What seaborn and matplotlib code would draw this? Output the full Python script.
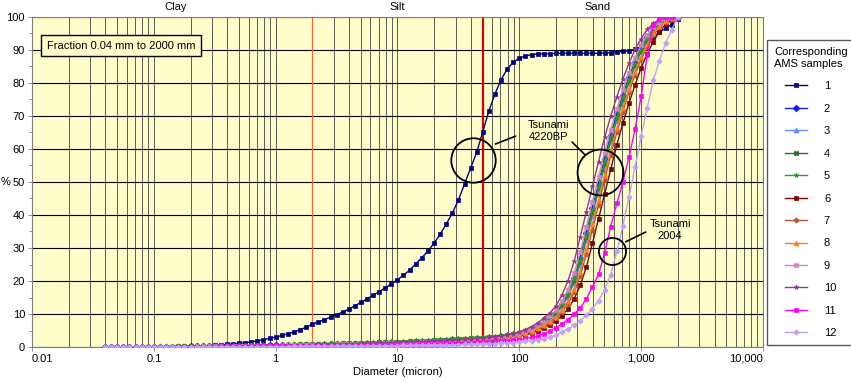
import matplotlib
matplotlib.use('Agg')  # no display
import pandas as pd
import matplotlib.pyplot as plt
import seaborn as sns
from matplotlib.ticker import FixedLocator, FixedFormatter, LogLocator, MultipleLocator, NullFormatter

plt.rcParams['font.family'] = ['Liberation Sans', 'DejaVu Sans']

# size classes (micron)
diameter = [0.040, 0.0447, 0.0501, 0.0562, 0.0631, 0.0708, 0.0794, 0.0891,
            0.100, 0.112, 0.126, 0.141, 0.158, 0.178, 0.200, 0.224, 0.251, 0.282,
            0.316, 0.355, 0.398, 0.447, 0.501, 0.562, 0.631, 0.708, 0.794, 0.891,
            1.00, 1.12, 1.26, 1.41, 1.58, 1.78, 2.00, 2.24, 2.51, 2.82,
            3.16, 3.55, 3.98, 4.47, 5.01, 5.62, 6.31, 7.08, 7.94, 8.91,
            10.0, 11.2, 12.6, 14.1, 15.8, 17.8, 20.0, 22.4, 25.1, 28.2,
            31.6, 35.5, 39.8, 44.7, 50.1, 56.2, 63.1, 70.8, 79.4, 89.1,
            100, 112, 126, 141, 158, 178, 200, 224, 251, 282,
            316, 355, 398, 447, 501, 562, 631, 708, 794, 891,
            1000, 1122, 1259, 1413, 1585, 1778, 1995]

# cumulative % for each AMS sample
s1 = [0.0, 0.0, 0.0, 0.0, 0.0, 0.0, 0.0, 0.0,
      0.0, 0.0, 0.0, 0.05, 0.08, 0.12, 0.17, 0.23, 0.30, 0.40, 0.50, 0.62, 0.76, 0.92, 1.1, 1.3, 1.55, 1.85, 2.2, 2.6,
      3.0, 3.5, 4.0, 4.6, 5.2, 6.0, 6.9, 7.6, 8.3, 9.0, 9.8, 10.6, 11.5, 12.5, 13.5, 14.6, 15.7, 16.8, 17.9, 19.1,
      20.4, 21.8, 23.3, 25.2, 27.0, 29.1, 31.5, 34.2, 37.2, 40.6, 44.5, 49.4, 54.2, 59.0, 65.2, 71.5, 76.7, 81.0, 84.2, 86.3,
      87.5, 88.2, 88.6, 88.8, 88.9, 88.9, 89.0, 89.0, 89.0, 89.0, 89.0, 89.0, 89.0, 89.0, 89.1, 89.2, 89.4, 89.6, 89.8, 90.2,
      91.0, 92.5, 94.0, 95.4, 96.6, 97.7, 99.5]
s2 = [0.0, 0.0, 0.0, 0.0, 0.0, 0.0, 0.0, 0.0,
      0.1, 0.1, 0.1, 0.1, 0.1, 0.1, 0.2, 0.2, 0.2, 0.2, 0.2, 0.3, 0.3, 0.3, 0.3, 0.4, 0.4, 0.4, 0.4, 0.5,
      0.5, 0.5, 0.5, 0.6, 0.6, 0.6, 0.7, 0.7, 0.7, 0.8, 0.8, 0.8, 0.9, 0.9, 1.0, 1.0, 1.0, 1.1, 1.1, 1.2,
      1.2, 1.3, 1.3, 1.4, 1.5, 1.5, 1.6, 1.7, 1.8, 1.9, 2.0, 2.1, 2.2, 2.3, 2.5, 2.6, 2.8, 3.0, 3.3, 3.6,
      4.0, 4.6, 5.4, 6.3, 7.4, 8.8, 10.4, 12.9, 16.2, 20.8, 26.9, 34.5, 42.0, 49.5, 57.0, 64.2, 70.5, 76.4, 81.7, 86.5,
      90.6, 93.8, 96.6, 98.3, 99.3, 99.8, 100.0]
s3 = [0.0, 0.0, 0.0, 0.0, 0.0, 0.0, 0.0, 0.0,
      0.0, 0.0, 0.1, 0.1, 0.1, 0.1, 0.1, 0.1, 0.2, 0.2, 0.2, 0.2, 0.2, 0.3, 0.3, 0.3, 0.3, 0.3, 0.4, 0.4,
      0.4, 0.4, 0.5, 0.5, 0.5, 0.5, 0.6, 0.6, 0.6, 0.7, 0.7, 0.7, 0.8, 0.8, 0.8, 0.9, 0.9, 0.9, 1.0, 1.0,
      1.1, 1.1, 1.2, 1.2, 1.3, 1.4, 1.4, 1.5, 1.6, 1.7, 1.8, 1.9, 2.0, 2.2, 2.3, 2.5, 2.7, 3.0, 3.2, 3.5,
      3.9, 4.5, 5.2, 6.1, 7.2, 8.5, 9.9, 12.2, 15.3, 19.4, 25.0, 32.3, 39.8, 47.2, 54.8, 62.2, 68.6, 74.6, 80.1, 85.1,
      89.5, 92.9, 96.0, 98.0, 99.1, 99.7, 100.0]
s4 = [0.0, 0.0, 0.0, 0.0, 0.0, 0.1, 0.1, 0.1,
      0.1, 0.1, 0.1, 0.1, 0.2, 0.2, 0.2, 0.2, 0.3, 0.3, 0.3, 0.3, 0.4, 0.4, 0.4, 0.4, 0.5, 0.5, 0.5, 0.6,
      0.6, 0.6, 0.7, 0.7, 0.8, 0.8, 0.9, 0.9, 1.0, 1.0, 1.0, 1.1, 1.1, 1.2, 1.2, 1.3, 1.3, 1.4, 1.4, 1.5,
      1.6, 1.6, 1.7, 1.8, 1.8, 1.9, 2.0, 2.1, 2.2, 2.3, 2.4, 2.5, 2.6, 2.7, 2.8, 2.9, 3.1, 3.3, 3.5, 3.8,
      4.3, 4.9, 5.7, 6.6, 7.7, 9.0, 10.4, 12.8, 15.9, 20.1, 25.9, 33.3, 40.8, 48.2, 55.6, 62.9, 69.3, 75.2, 80.7, 85.5,
      89.8, 93.1, 96.1, 98.0, 99.1, 99.7, 100.0]
s5 = [0.0, 0.0, 0.0, 0.0, 0.1, 0.1, 0.1, 0.1,
      0.1, 0.1, 0.1, 0.2, 0.2, 0.2, 0.2, 0.3, 0.3, 0.3, 0.3, 0.4, 0.4, 0.4, 0.5, 0.5, 0.5, 0.6, 0.6, 0.6,
      0.7, 0.7, 0.8, 0.8, 0.9, 0.9, 1.0, 1.0, 1.1, 1.1, 1.2, 1.2, 1.3, 1.3, 1.4, 1.4, 1.5, 1.5, 1.6, 1.7,
      1.8, 1.9, 1.9, 2.0, 2.1, 2.2, 2.3, 2.4, 2.5, 2.6, 2.7, 2.8, 2.9, 3.0, 3.1, 3.3, 3.4, 3.6, 3.8, 4.1,
      4.5, 5.0, 5.7, 6.5, 7.6, 9.0, 10.6, 13.0, 16.2, 20.5, 26.2, 33.6, 41.2, 48.6, 56.0, 63.3, 69.7, 75.6, 81.0, 85.8,
      90.1, 93.4, 96.3, 98.1, 99.2, 99.8, 100.0]
s6 = [0.0, 0.0, 0.0, 0.0, 0.0, 0.0, 0.0, 0.0,
      0.0, 0.0, 0.0, 0.1, 0.1, 0.1, 0.1, 0.1, 0.1, 0.1, 0.2, 0.2, 0.2, 0.2, 0.2, 0.2, 0.3, 0.3, 0.3, 0.3,
      0.3, 0.3, 0.4, 0.4, 0.4, 0.4, 0.5, 0.5, 0.5, 0.5, 0.6, 0.6, 0.6, 0.7, 0.7, 0.7, 0.7, 0.8, 0.8, 0.8,
      0.9, 0.9, 1.0, 1.0, 1.1, 1.1, 1.2, 1.2, 1.3, 1.4, 1.4, 1.5, 1.6, 1.7, 1.8, 2.0, 2.1, 2.3, 2.5, 2.8,
      3.2, 3.7, 4.2, 4.9, 5.7, 6.7, 8.0, 9.5, 11.6, 14.6, 18.7, 24.2, 31.4, 38.9, 46.3, 53.8, 61.2, 67.8, 73.9, 79.4,
      84.6, 88.9, 92.5, 95.6, 97.8, 99.2, 100.0]
s7 = [0.0, 0.0, 0.0, 0.0, 0.0, 0.0, 0.0, 0.0,
      0.0, 0.0, 0.1, 0.1, 0.1, 0.1, 0.1, 0.1, 0.1, 0.2, 0.2, 0.2, 0.2, 0.2, 0.2, 0.3, 0.3, 0.3, 0.3, 0.3,
      0.4, 0.4, 0.4, 0.4, 0.5, 0.5, 0.5, 0.5, 0.6, 0.6, 0.6, 0.7, 0.7, 0.7, 0.8, 0.8, 0.8, 0.9, 0.9, 0.9,
      1.0, 1.0, 1.1, 1.1, 1.2, 1.3, 1.3, 1.4, 1.5, 1.5, 1.6, 1.7, 1.8, 1.9, 2.0, 2.2, 2.4, 2.6, 2.8, 3.1,
      3.5, 4.0, 4.6, 5.4, 6.3, 7.4, 8.7, 10.6, 13.1, 16.6, 21.5, 28.2, 35.6, 43.1, 50.6, 58.1, 65.0, 71.3, 77.2, 82.5,
      87.2, 91.0, 94.4, 96.9, 98.6, 99.5, 100.0]
s8 = [0.0, 0.0, 0.0, 0.0, 0.0, 0.0, 0.0, 0.0,
      0.0, 0.1, 0.1, 0.1, 0.1, 0.1, 0.1, 0.1, 0.2, 0.2, 0.2, 0.2, 0.2, 0.3, 0.3, 0.3, 0.3, 0.3, 0.4, 0.4,
      0.4, 0.4, 0.5, 0.5, 0.5, 0.5, 0.6, 0.6, 0.6, 0.7, 0.7, 0.7, 0.7, 0.8, 0.8, 0.8, 0.9, 0.9, 1.0, 1.0,
      1.0, 1.1, 1.1, 1.2, 1.3, 1.3, 1.4, 1.5, 1.6, 1.6, 1.7, 1.8, 1.9, 2.1, 2.2, 2.4, 2.6, 2.8, 3.0, 3.3,
      3.7, 4.2, 4.9, 5.7, 6.7, 7.9, 9.2, 11.2, 13.9, 17.6, 22.8, 29.7, 37.2, 44.6, 52.1, 59.6, 66.3, 72.5, 78.2, 83.4,
      88.0, 91.7, 95.0, 97.3, 98.8, 99.6, 100.0]
s9 = [0.0, 0.0, 0.0, 0.0, 0.0, 0.0, 0.0, 0.0,
      0.1, 0.1, 0.1, 0.1, 0.1, 0.1, 0.1, 0.2, 0.2, 0.2, 0.2, 0.2, 0.3, 0.3, 0.3, 0.3, 0.3, 0.4, 0.4, 0.4,
      0.4, 0.5, 0.5, 0.5, 0.6, 0.6, 0.6, 0.7, 0.7, 0.7, 0.8, 0.8, 0.8, 0.9, 0.9, 0.9, 1.0, 1.0, 1.1, 1.1,
      1.2, 1.2, 1.3, 1.3, 1.4, 1.5, 1.6, 1.6, 1.7, 1.8, 1.9, 2.0, 2.2, 2.3, 2.5, 2.6, 2.8, 3.1, 3.4, 3.7,
      4.2, 4.8, 5.6, 6.6, 7.8, 9.3, 11.1, 13.8, 17.4, 22.3, 28.7, 36.4, 44.0, 51.5, 58.9, 65.9, 72.1, 77.9, 83.0, 87.6,
      91.4, 94.4, 97.0, 98.5, 99.4, 99.8, 100.0]
s10 = [0.0, 0.0, 0.0, 0.0, 0.0, 0.0, 0.1, 0.1,
       0.1, 0.1, 0.1, 0.1, 0.1, 0.2, 0.2, 0.2, 0.2, 0.2, 0.3, 0.3, 0.3, 0.3, 0.4, 0.4, 0.4, 0.4, 0.5, 0.5,
       0.5, 0.6, 0.6, 0.6, 0.7, 0.7, 0.7, 0.8, 0.8, 0.9, 0.9, 0.9, 1.0, 1.0, 1.1, 1.1, 1.2, 1.2, 1.3, 1.3,
       1.4, 1.4, 1.5, 1.6, 1.6, 1.7, 1.8, 1.9, 2.0, 2.1, 2.2, 2.3, 2.4, 2.6, 2.7, 2.9, 3.1, 3.4, 3.7, 4.0,
       4.6, 5.3, 6.2, 7.3, 8.7, 10.3, 12.5, 15.8, 20.1, 26.0, 33.4, 41.0, 48.7, 56.2, 63.5, 69.9, 75.8, 81.2, 86.0, 90.2,
       93.4, 96.3, 98.1, 99.2, 99.7, 99.9, 100.0]
s11 = [0.0, 0.0, 0.0, 0.0, 0.0, 0.0, 0.0, 0.0,
       0.0, 0.0, 0.0, 0.1, 0.1, 0.1, 0.1, 0.1, 0.1, 0.1, 0.1, 0.2, 0.2, 0.2, 0.2, 0.2, 0.2, 0.2, 0.3, 0.3,
       0.3, 0.3, 0.3, 0.3, 0.4, 0.4, 0.4, 0.4, 0.4, 0.5, 0.5, 0.5, 0.5, 0.6, 0.6, 0.6, 0.6, 0.7, 0.7, 0.7,
       0.8, 0.8, 0.8, 0.9, 0.9, 0.9, 1.0, 1.0, 1.1, 1.1, 1.2, 1.2, 1.3, 1.4, 1.5, 1.6, 1.7, 1.8, 1.9, 2.0,
       2.2, 2.5, 2.9, 3.3, 4.0, 4.9, 5.9, 7.0, 8.3, 10.0, 11.8, 14.6, 18.2, 22.0, 28.5, 36.5, 43.5, 50.0, 57.5, 66.0,
       76.0, 88.5, 97.5, 99.8, 100.0, 100.0, 100.0]
s12 = [0.0, 0.0, 0.0, 0.0, 0.0, 0.0, 0.0, 0.0,
       0.0, 0.0, 0.0, 0.0, 0.0, 0.0, 0.0, 0.0, 0.1, 0.1, 0.1, 0.1, 0.1, 0.1, 0.1, 0.1, 0.1, 0.1, 0.1, 0.1,
       0.1, 0.1, 0.1, 0.2, 0.2, 0.2, 0.2, 0.2, 0.2, 0.2, 0.3, 0.3, 0.3, 0.3, 0.3, 0.3, 0.4, 0.4, 0.4, 0.4,
       0.4, 0.5, 0.5, 0.5, 0.5, 0.6, 0.6, 0.6, 0.7, 0.7, 0.7, 0.8, 0.8, 0.9, 0.9, 1.0, 1.0, 1.1, 1.2, 1.3,
       1.5, 1.7, 1.9, 2.1, 2.5, 3.0, 3.6, 4.5, 5.5, 6.6, 7.9, 9.6, 11.6, 14.0, 17.4, 21.8, 29.0, 36.8, 45.5, 54.5,
       64.0, 72.5, 80.8, 86.8, 92.0, 96.0, 100.0]

samples = ['1', '2', '3', '4', '5', '6', '7', '8', '9', '10', '11', '12']
series = [s1, s2, s3, s4, s5, s6, s7, s8, s9, s10, s11, s12]
colors = ['#000080', '#1a1aff', '#5b8cff', '#2e6b2e', '#22a022', '#7f0000',
          '#b5562b', '#ff7f1f', '#cc88bb', '#993399', '#ff00ff', '#c0a0ff']
markers = ['s', 'D', '^', 'X', '*', 's', 'P', '^', 'X', '*', 's', 'P']

xticks = [0.01, 0.1, 1, 10, 100, 1000, 10000]
xtick_labels = ['0.01', '0.1', '1', '10', '100', '1,000', '10,000']

# long table
df = pd.DataFrame({'diameter': diameter})
for name, vals in zip(samples, series):
    df[name] = vals
df = df.melt(id_vars='diameter', var_name='sample', value_name='pct')

fig = plt.figure(figsize=(8.51, 3.8), dpi=100)
ax = fig.add_axes([32 / 851, 33 / 380, 731 / 851, 330 / 380])
ax.set_facecolor('#fefecb')
ax.set_xscale('log')

for name, col, mk in zip(samples, colors, markers):
    sub = df[df['sample'] == name]
    sns.lineplot(data=sub, x='diameter', y='pct', color=col, marker=mk, markersize=3.5,
                 markeredgecolor=col, markeredgewidth=0.5, linewidth=1.0, label=name,
                 errorbar=None, ax=ax, zorder=3)

ax.set_xlim(0.01, 10000)
ax.set_ylim(0, 100)
ax.xaxis.set_major_locator(FixedLocator(xticks))
ax.xaxis.set_major_formatter(FixedFormatter(xtick_labels))
ax.xaxis.set_minor_locator(LogLocator(base=10, subs=range(2, 10), numticks=100))
ax.xaxis.set_minor_formatter(NullFormatter())
ax.yaxis.set_major_locator(MultipleLocator(10))
ax.yaxis.set_minor_locator(MultipleLocator(5))
ax.tick_params(axis='both', which='major', labelsize=8, length=3, width=0.6, color='#808080', pad=2)
ax.tick_params(axis='x', which='minor', length=0)
ax.tick_params(axis='y', which='minor', length=2, width=0.6, color='#808080')
# end labels sit inside, as in the original
xt = ax.xaxis.get_major_ticks()
xt[0].label1.set_horizontalalignment('left')
xt[-1].label1.set_horizontalalignment('right')

ax.set_axisbelow(True)
ax.grid(True, which='both', axis='x', color='#444444', lw=0.6)
ax.grid(True, which='major', axis='y', color='black', lw=0.8)
for sp in ax.spines.values():
    sp.set_color('#808080')
    sp.set_linewidth(0.8)

# clay / silt / sand limits
ax.axvline(2, color='#ff6040', lw=0.9, zorder=2)
ax.axvline(50, color='#e00000', lw=1.6, zorder=2)
for lab, xpos in zip(['Clay', 'Silt', 'Sand'], [0.15, 10, 440]):
    ax.text(xpos, 1.03, lab, transform=ax.get_xaxis_transform(), ha='center', va='center', fontsize=8)

ax.set_xlabel('Diameter (micron)', fontsize=8, labelpad=2)
ax.set_ylabel('')
fig.text(6 / 851, 1 - 182 / 380, '%', ha='center', va='center', fontsize=8)

ax.text(0.122, 0.913, 'Fraction 0.04 mm to 2000 mm', transform=ax.transAxes, ha='center', va='center',
        fontsize=8, zorder=6, bbox=dict(boxstyle='square,pad=0.5', fc='#fefecb', ec='black', lw=1))

# tsunami circles and callouts
ax.plot([41.5], [56.7], marker='o', ms=32, mfc='none', mec='black', mew=1.3, zorder=6)
ax.plot([460], [53.1], marker='o', ms=33, mfc='none', mec='black', mew=1.3, zorder=6)
ax.plot([574], [29.2], marker='o', ms=19.5, mfc='none', mec='black', mew=1.3, zorder=6)
ax.text(172, 65.5, 'Tsunami\n4220BP', ha='center', va='center', fontsize=8, zorder=6)
ax.text(1730, 35.5, 'Tsunami\n2004', ha='center', va='center', fontsize=8, zorder=6)
arrow = dict(arrowstyle='-', color='black', lw=1.2)
ax.annotate('', xy=(60.6, 61.2), xytext=(97.8, 64.2), arrowprops=arrow, zorder=6)
ax.annotate('', xy=(358, 57.7), xytext=(261, 62.7), arrowprops=arrow, zorder=6)
ax.annotate('', xy=(712, 31.5), xytext=(1141, 35.2), arrowprops=arrow, zorder=6)

handles, labels = ax.get_legend_handles_labels()
leg = ax.legend(handles, labels, title='Corresponding\nAMS samples', loc='upper left',
                bbox_to_anchor=(1.005, 0.93), borderaxespad=0, frameon=True, fancybox=False,
                edgecolor='#303030', fontsize=8, title_fontsize=8, labelspacing=1.12,
                handlelength=2.0, handletextpad=1.5, borderpad=0.65)
leg.get_frame().set_linewidth(1.0)

fig.savefig('out.png', dpi=100)
plt.close()
